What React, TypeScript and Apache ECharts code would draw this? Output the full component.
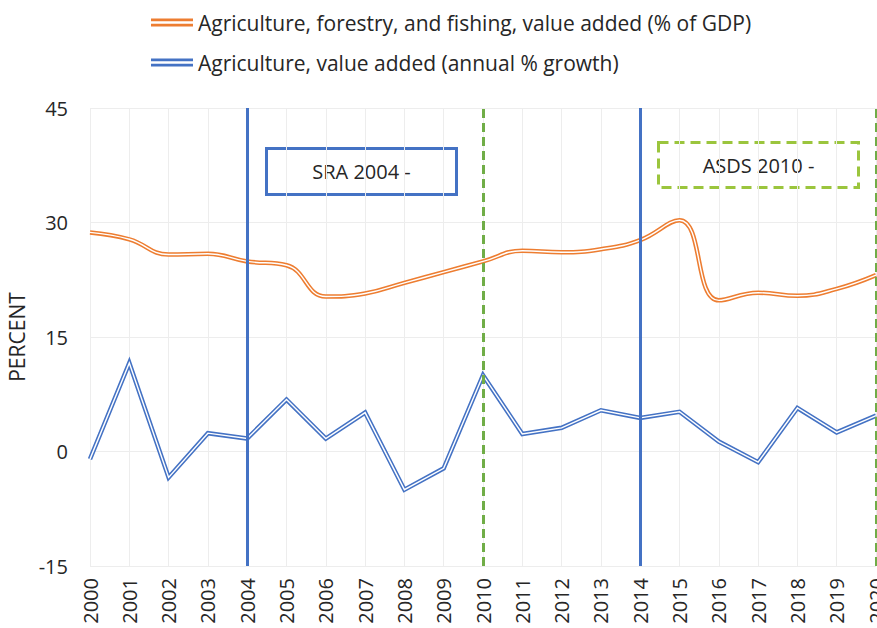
import React, { useEffect, useRef } from "react";
import * as echarts from "echarts";

const years = ["2000","2001","2002","2003","2004","2005","2006","2007","2008","2009","2010","2011","2012","2013","2014","2015","2016","2017","2018","2019","2020"];
const agriShareGDP = [28.7, 27.8, 25.8, 25.9, 24.9, 24.4, 20.3, 20.7, 22.1, 23.5, 24.9, 26.3, 26.1, 26.5, 27.7, 30.3, 19.8, 20.8, 20.4, 21.3, 23.1];
const agriGrowth = [-1.0, 11.6, -3.4, 2.4, 1.7, 6.8, 1.7, 5.1, -5.0, -2.2, 10.0, 2.3, 3.1, 5.4, 4.4, 5.2, 1.3, -1.4, 5.7, 2.5, 4.7];
const yTicks = { min: -15, max: 45, interval: 15 };
const seriesNames = [
  "Agriculture, forestry, and fishing, value added (% of GDP)",
  "Agriculture, value added (annual % growth)",
];
const solidPolicyYears = ["2004", "2014"];
const dashedPolicyYears = ["2010", "2020"];
const annotations = ["SRA 2004 -", "ASDS 2010 -"];

const ORANGE = "#ED7D31";
const BLUE = "#4472C4";
const GREEN = "#70AD47";
const LIGHTGREEN = "#9BC53D";
const FONT = "'Open Sans', Lato, sans-serif";
const TEXT = "#262626";
const ICON = "path://M0,0H40V2.5H0Z M0,5H40V7.5H0Z";

export default function App() {
  const ref = useRef<HTMLDivElement>(null);
  useEffect(() => {
    if (!ref.current) return;
    const chart = echarts.init(ref.current, undefined, { renderer: "svg" });
    chart.setOption({
      animation: false,
      backgroundColor: "#ffffff",
      textStyle: { fontFamily: FONT },
      legend: {
        orient: "vertical",
        left: 146,
        top: 7,
        itemGap: 19,
        itemWidth: 42,
        itemHeight: 8,
        itemSpacing: 6,
        textStyle: { fontSize: 21, color: TEXT, fontFamily: FONT },
        data: [
          { name: seriesNames[0], icon: ICON, itemStyle: { color: ORANGE } },
          { name: seriesNames[1], icon: ICON, itemStyle: { color: BLUE } },
        ],
      },
      grid: { left: 90, right: 1, top: 108, bottom: 62, containLabel: false, outerBoundsMode: "none" },
      xAxis: {
        type: "category",
        data: years,
        boundaryGap: false,
        axisLine: { show: false },
        axisTick: { show: false },
        splitLine: { show: true, lineStyle: { color: "#EDEDED", width: 1 } },
        axisLabel: { rotate: 90, fontSize: 20, color: TEXT, margin: 12, fontFamily: FONT, interval: 0 },
      },
      yAxis: {
        type: "value",
        min: yTicks.min,
        max: yTicks.max,
        interval: yTicks.interval,
        name: "PERCENT",
        nameLocation: "middle",
        nameGap: 62,
        nameTextStyle: { fontSize: 21, color: TEXT, fontFamily: FONT },
        axisLine: { show: false },
        axisTick: { show: false },
        splitLine: { show: true, lineStyle: { color: "#EDEDED", width: 1 } },
        axisLabel: { fontSize: 20, color: TEXT, margin: 22, fontFamily: FONT },
      },
      series: [
        {
          name: seriesNames[0],
          type: "line",
          data: agriShareGDP,
          smooth: 0.45,
          symbol: "none",
          lineStyle: { color: ORANGE, width: 4.5 },
          itemStyle: { color: ORANGE },
          z: 2,
        },
        {
          name: "_o1",
          type: "line",
          data: agriShareGDP,
          smooth: 0.45,
          symbol: "none",
          lineStyle: { color: "#ffffff", width: 1.4 },
          z: 3,
        },
        {
          name: seriesNames[1],
          type: "line",
          data: agriGrowth,
          symbol: "none",
          lineStyle: { color: BLUE, width: 4.5, join: "miter" },
          itemStyle: { color: BLUE },
          z: 2,
        },
        {
          name: "_o2",
          type: "line",
          data: agriGrowth,
          symbol: "none",
          lineStyle: { color: "#ffffff", width: 1.4, join: "miter" },
          z: 3,
          markLine: {
            silent: true,
            symbol: "none",
            label: { show: false },
            data: [
              ...solidPolicyYears.map((y) => ({ xAxis: y, lineStyle: { color: BLUE, width: 3, type: "solid" } })),
              ...dashedPolicyYears.map((y) => ({ xAxis: y, lineStyle: { color: GREEN, width: 3, type: [9, 5] } })),
            ],
          },
        },
      ],
      graphic: [
        {
          type: "group",
          left: 265,
          top: 147,
          z: 10,
          children: [
            { type: "rect", shape: { x: 0, y: 0, width: 190, height: 46 }, style: { fill: "#ffffff", stroke: BLUE, lineWidth: 3 } },
            {
              type: "text",
              x: 95,
              y: 23,
              style: { text: annotations[0], fill: TEXT, fontSize: 20, fontFamily: FONT, align: "center", verticalAlign: "middle" },
            },
          ],
        },
        {
          type: "group",
          left: 657,
          top: 141,
          z: 10,
          children: [
            { type: "rect", shape: { x: 0, y: 0, width: 200, height: 45 }, style: { fill: "#ffffff", stroke: LIGHTGREEN, lineWidth: 3, lineDash: [10, 6] } },
            {
              type: "text",
              x: 100,
              y: 23,
              style: { text: annotations[1], fill: TEXT, fontSize: 20, fontFamily: FONT, align: "center", verticalAlign: "middle" },
            },
          ],
        },
      ],
    });
    return () => chart.dispose();
  }, []);
  return <div ref={ref} style={{ position: "absolute", left: 0, top: 0, width: 877, height: 628 }} />;
}
